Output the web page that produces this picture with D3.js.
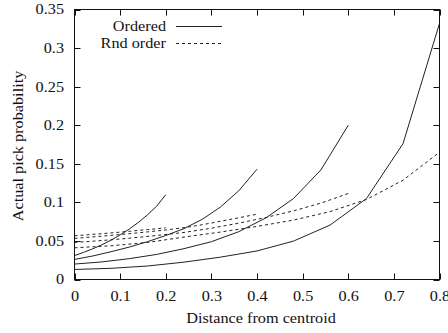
<!DOCTYPE html>
<html>
<head>
<meta charset="utf-8">
<script src="https://cdn.jsdelivr.net/npm/d3@7"></script>
<style>
  body { margin: 0; background: #fff; }
</style>
</head>
<body>
<div id="chart"></div>
<script>
// x positions of the samples, one set per curve length
var x02 = [0, 0.02, 0.04, 0.06, 0.08, 0.1, 0.12, 0.14, 0.16, 0.18, 0.2];
var x04 = [0, 0.04, 0.08, 0.12, 0.16, 0.2, 0.24, 0.28, 0.32, 0.36, 0.4];
var x06 = [0, 0.06, 0.12, 0.18, 0.24, 0.3, 0.36, 0.42, 0.48, 0.54, 0.6];
var x08 = [0, 0.08, 0.16, 0.24, 0.32, 0.4, 0.48, 0.56, 0.64, 0.72, 0.8];

// "Ordered" curves (solid)
var ordered02 = [0.031, 0.0352, 0.0398, 0.045, 0.051, 0.0578, 0.0654, 0.074, 0.0838, 0.095, 0.110];
var ordered04 = [0.026, 0.0305, 0.036, 0.042, 0.049, 0.057, 0.066, 0.078, 0.094, 0.115, 0.143];
var ordered06 = [0.020, 0.0228, 0.027, 0.0325, 0.040, 0.049, 0.062, 0.080, 0.105, 0.142, 0.200];
var ordered08 = [0.013, 0.0145, 0.0175, 0.0225, 0.029, 0.037, 0.0498, 0.0705, 0.105, 0.176, 0.332];

// "Rnd order" curves (dashed)
var rnd02 = [0.0567, 0.0576, 0.0585, 0.0594, 0.0604, 0.0614, 0.0625, 0.0636, 0.0647, 0.0658, 0.067];
var rnd04 = [0.0533, 0.0552, 0.0572, 0.0594, 0.0617, 0.0642, 0.0672, 0.071, 0.0755, 0.080, 0.0847];
var rnd06 = [0.048, 0.0505, 0.0535, 0.057, 0.061, 0.0665, 0.073, 0.0805, 0.089, 0.099, 0.1115];
var rnd08 = [0.0411, 0.0437, 0.048, 0.055, 0.0615, 0.0688, 0.077, 0.088, 0.1037, 0.1287, 0.165];

var xTicks = [0, 0.1, 0.2, 0.3, 0.4, 0.5, 0.6, 0.7, 0.8];
var yTicks = [0, 0.05, 0.1, 0.15, 0.2, 0.25, 0.3, 0.35];

function init() {
  var w = 448;
  var h = 333;
  var left = 74.5, right = 439.5, top = 9.5, bottom = 279.5;
  var tick = 6;
  var font = "'Liberation Serif'";
  var fs = "14px";
  var stretch = 1.16; // the original type is set wider than plain Times

  var svg = d3
    .select("#chart")
    .append("svg")
    .attr("width", w)
    .attr("height", h);

  var x = d3.scaleLinear().domain([0, 0.8]).range([left, right]);
  var y = d3.scaleLinear().domain([0, 0.35]).range([bottom, top]);

  var line = d3
    .line()
    .x((d) => x(d[0]))
    .y((d) => y(d[1]));

  function pairs(xs, ys) {
    return xs.map((v, i) => [v, ys[i]]);
  }

  // Axes: labels from d3 axes, inward ticks mirrored on all sides
  var xAxis = d3.axisBottom(x).tickValues(xTicks).tickSize(0).tickPadding(12)
    .tickFormat((d) => d3.format("~g")(d));
  var yAxis = d3.axisLeft(y).tickValues(yTicks).tickSize(0).tickPadding(9)
    .tickFormat((d) => d3.format("~g")(d));

  svg.append("g")
    .attr("transform", "translate(0," + bottom + ")")
    .call(xAxis)
    .call((g) => g.select(".domain").remove())
    .selectAll("text")
    .style("font-family", font)
    .style("font-size", fs)
    .attr("fill", "#111")
    .attr("transform", "scale(" + stretch + ",1)");

  svg.append("g")
    .attr("transform", "translate(" + left + ",0)")
    .call(yAxis)
    .call((g) => g.select(".domain").remove())
    .selectAll("text")
    .style("font-family", font)
    .style("font-size", fs)
    .attr("fill", "#111")
    .attr("x", -10.5 / stretch)
    .attr("transform", "scale(" + stretch + ",1)");

  var ticks = svg.append("g").attr("stroke", "#111").attr("stroke-width", 1);
  ticks.selectAll(".xb").data(xTicks).enter().append("line")
    .attr("x1", (d) => Math.round(x(d)) + 0.5).attr("x2", (d) => Math.round(x(d)) + 0.5)
    .attr("y1", bottom).attr("y2", bottom - tick);
  ticks.selectAll(".xt").data(xTicks).enter().append("line")
    .attr("x1", (d) => Math.round(x(d)) + 0.5).attr("x2", (d) => Math.round(x(d)) + 0.5)
    .attr("y1", top).attr("y2", top + tick);
  ticks.selectAll(".yl").data(yTicks).enter().append("line")
    .attr("y1", (d) => Math.round(y(d)) + 0.5).attr("y2", (d) => Math.round(y(d)) + 0.5)
    .attr("x1", left).attr("x2", left + tick);
  ticks.selectAll(".yr").data(yTicks).enter().append("line")
    .attr("y1", (d) => Math.round(y(d)) + 0.5).attr("y2", (d) => Math.round(y(d)) + 0.5)
    .attr("x1", right).attr("x2", right - tick);

  // Curves
  var solid = [pairs(x02, ordered02), pairs(x04, ordered04), pairs(x06, ordered06), pairs(x08, ordered08)];
  var dashed = [pairs(x02, rnd02), pairs(x04, rnd04), pairs(x06, rnd06), pairs(x08, rnd08)];

  svg.selectAll(".ordered").data(solid).enter().append("path")
    .attr("d", line)
    .attr("fill", "none")
    .attr("stroke", "#222")
    .attr("stroke-width", 1);

  svg.selectAll(".rnd").data(dashed).enter().append("path")
    .attr("d", line)
    .attr("fill", "none")
    .attr("stroke", "#222")
    .attr("stroke-width", 1)
    .attr("stroke-dasharray", "3,3");

  // Frame
  svg.append("rect")
    .attr("x", left).attr("y", top)
    .attr("width", right - left).attr("height", bottom - top)
    .attr("fill", "none").attr("stroke", "#111").attr("stroke-width", 1);

  function label(tx, ty, rot, anchor, str) {
    svg.append("text")
      .attr("transform", "translate(" + tx + "," + ty + ") rotate(" + rot + ") scale(" + stretch + ",1)")
      .attr("dy", "0.35em")
      .attr("text-anchor", anchor)
      .attr("fill", "#111")
      .style("font-family", font)
      .style("font-size", fs)
      .text(str);
  }

  // Legend
  var entries = [["Ordered", null], ["Rnd order", "3,3"]];
  entries.forEach(function (e, i) {
    var ly = 26 + i * 17;
    label(166, ly, 0, "end", e[0]);
    svg.append("line")
      .attr("x1", 176).attr("x2", 222)
      .attr("y1", ly + 0.5).attr("y2", ly + 0.5)
      .attr("stroke", "#222").attr("stroke-width", 1)
      .attr("stroke-dasharray", e[1]);
  });

  // Axis titles
  label(261, 318, 0, "middle", "Distance from centroid");
  label(18, 146, -90, "middle", "Actual pick probability");
}

window.onload = init;
</script>
</body>
</html>
